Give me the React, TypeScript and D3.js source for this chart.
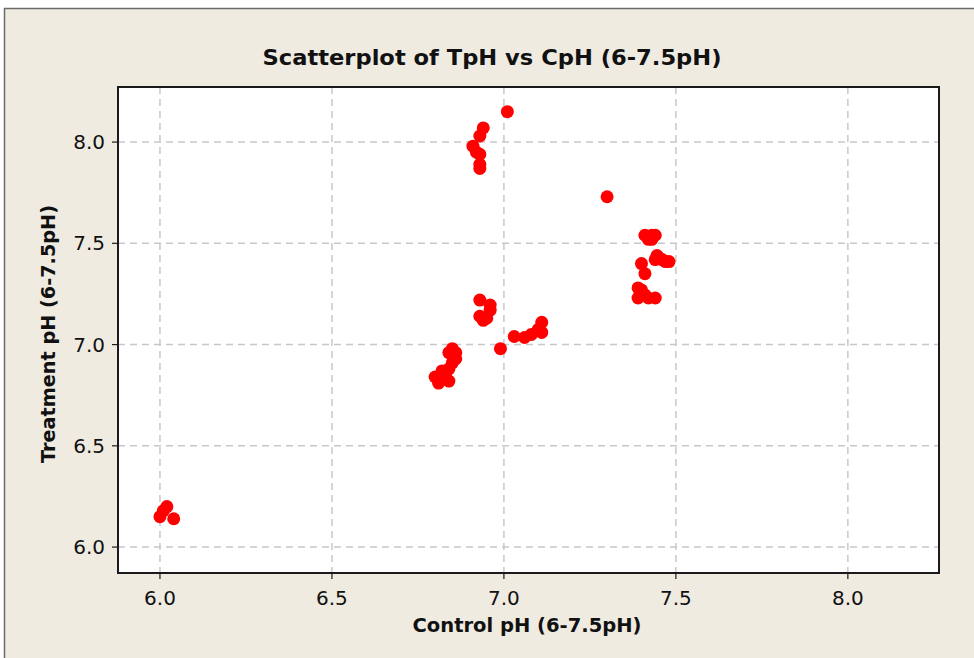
import React from "react";
import * as d3 from "d3";

const controlPH = [
  6.0, 6.01, 6.02, 6.04,
  6.8, 6.81, 6.82, 6.82, 6.84, 6.84, 6.85, 6.855, 6.84, 6.85, 6.86, 6.83, 6.85, 6.86,
  6.93, 6.96, 6.96, 6.93, 6.94, 6.95,
  6.99,
  7.03, 7.06, 7.08, 7.1, 7.11, 7.11,
  7.01, 6.94, 6.93, 6.91, 6.92, 6.93, 6.93, 6.93,
  7.3,
  7.41, 7.43, 7.44, 7.42, 7.43,
  7.445, 7.45, 7.46, 7.47, 7.48, 7.44,
  7.4, 7.41, 7.39, 7.39, 7.41, 7.42, 7.44, 7.4,
];
const treatmentPH = [
  6.15, 6.18, 6.2, 6.14,
  6.84, 6.81, 6.84, 6.87, 6.82, 6.88, 6.91, 6.93, 6.96, 6.98, 6.96, 6.85, 6.95, 6.93,
  7.22, 7.195, 7.17, 7.14, 7.12, 7.13,
  6.98,
  7.04, 7.035, 7.05, 7.075, 7.11, 7.06,
  8.15, 8.07, 8.03, 7.98, 7.95, 7.94, 7.89, 7.87,
  7.73,
  7.54, 7.54, 7.54, 7.52, 7.52,
  7.44, 7.43, 7.42, 7.41, 7.41, 7.42,
  7.4, 7.35, 7.28, 7.23, 7.245, 7.23, 7.23, 7.27,
];
const xTicks = [6.0, 6.5, 7.0, 7.5, 8.0];
const yTicks = [6.0, 6.5, 7.0, 7.5, 8.0];
const title = "Scatterplot of TpH vs CpH (6-7.5pH)";
const xLabel = "Control pH (6-7.5pH)";
const yLabel = "Treatment pH (6-7.5pH)";

export default function App() {
  const W = 974, H = 658;
  const L = 118, R = 939, T = 87, B = 573;
  const x = d3.scaleLinear().domain([5.878, 8.265]).range([L, R]);
  const y = d3.scaleLinear().domain([5.872, 8.272]).range([B, T]);
  const pts = controlPH.map((c, i) => [c, treatmentPH[i]]);
  const tickFont = "'DejaVu Sans', Verdana, sans-serif";
  return (
    <svg width={W} height={H} style={{ position: "absolute", left: 0, top: 0 }}>
      <rect x={0} y={0} width={W} height={H} fill="#ffffff" />
      <rect x={4.5} y={8.5} width={W + 10} height={H + 10} fill="#EFEBE1" stroke="#6b6b6b" strokeWidth={1.5} />
      <rect x={L} y={T} width={R - L} height={B - T} fill="#ffffff" />
      {xTicks.map((t) => (
        <line key={"gx" + t} x1={x(t)} x2={x(t)} y1={T} y2={B} stroke="#c8c8c8" strokeWidth={1.5} strokeDasharray="7,5" />
      ))}
      {yTicks.map((t) => (
        <line key={"gy" + t} x1={L} x2={R} y1={y(t)} y2={y(t)} stroke="#c8c8c8" strokeWidth={1.5} strokeDasharray="7,5" />
      ))}
      {pts.map(([c, t], i) => (
        <circle key={i} cx={x(c)} cy={y(t)} r={6.5} fill="#ff0000" />
      ))}
      <rect x={L} y={T} width={R - L} height={B - T} fill="none" stroke="#1a1a1a" strokeWidth={2} />
      {xTicks.map((t) => (
        <g key={"tx" + t}>
          <line x1={x(t)} x2={x(t)} y1={B} y2={B + 6} stroke="#1a1a1a" strokeWidth={1.2} />
          <text x={x(t)} y={605} textAnchor="middle" fontFamily={tickFont} fontSize={20} fill="#111">
            {d3.format(".1f")(t)}
          </text>
        </g>
      ))}
      {yTicks.map((t) => (
        <g key={"ty" + t}>
          <line x1={L - 6} x2={L} y1={y(t)} y2={y(t)} stroke="#1a1a1a" strokeWidth={1.2} />
          <text x={105} y={y(t) + 7} textAnchor="end" fontFamily={tickFont} fontSize={20} fill="#111">
            {d3.format(".1f")(t)}
          </text>
        </g>
      ))}
      <text x={492} y={65} textAnchor="middle" fontFamily={tickFont} fontWeight="bold" fontSize={22}
        textLength={459} lengthAdjust="spacingAndGlyphs" fill="#111">
        {title}
      </text>
      <text x={527} y={632} textAnchor="middle" fontFamily={tickFont} fontWeight="bold" fontSize={19}
        textLength={229} lengthAdjust="spacingAndGlyphs" fill="#111">
        {xLabel}
      </text>
      <text transform={`translate(55,334) rotate(-90)`} textAnchor="middle" fontFamily={tickFont} fontWeight="bold"
        fontSize={19} textLength={258} lengthAdjust="spacingAndGlyphs" fill="#111">
        {yLabel}
      </text>
    </svg>
  );
}
